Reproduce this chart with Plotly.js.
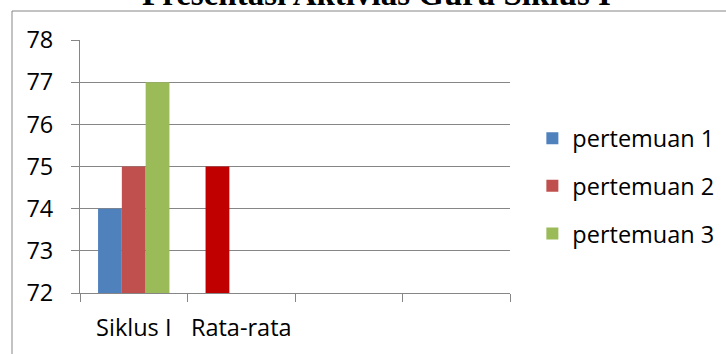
<!DOCTYPE html>
<html>
<head>
<meta charset="utf-8">
<script src="https://cdn.plot.ly/plotly-3.0.1.min.js"></script>
<style>html,body{margin:0;padding:0;background:#fff;}#chart{width:726px;height:354px;}</style>
</head>
<body>
<div id="chart"></div>
<script>
const categories = ['Siklus I', 'Rata-rata', ' ', '  '];
const seriesNames = ['pertemuan 1', 'pertemuan 2', 'pertemuan 3'];
const p1X = ['Siklus I', 'Rata-rata'];
const p1Y = [74, 75];
const p2X = ['Siklus I'];
const p2Y = [75];
const p3X = ['Siklus I'];
const p3Y = [77];
const yTicks = [72, 73, 74, 75, 76, 77, 78];
const titleText = 'Presentasi Aktivias Guru Siklus I';

const fontFam = '"Open Sans", "Liberation Sans", sans-serif';
const grid = '#868686';
const fs = 23.5;

const traces = [
  {type: 'bar', name: seriesNames[0], x: p1X, y: p1Y, legendgroup: 'a',
   marker: {color: ['#4F81BD', '#C00000']}},
  {type: 'bar', name: seriesNames[1], x: p2X, y: p2Y, legendgroup: 'b',
   marker: {color: '#C0504D'}},
  {type: 'bar', name: seriesNames[2], x: p3X, y: p3Y, legendgroup: 'c',
   marker: {color: '#9BBB59'}}
];

const layout = {
  width: 726, height: 354,
  margin: {l: 80, r: 216, t: 40, b: 61, autoexpand: false},
  paper_bgcolor: '#fff', plot_bgcolor: '#fff',
  barmode: 'group', bargap: 0.336, bargroupgap: 0,
  font: {family: fontFam, size: fs, color: '#000'},
  showlegend: true,
  legend: {x: 1.052, xanchor: 'left', y: (293 - 186) / 253, yanchor: 'middle',
           font: {family: fontFam, size: fs, color: '#000'},
           tracegroupgap: 14, traceorder: 'grouped', bgcolor: 'rgba(0,0,0,0)'},
  xaxis: {type: 'category', categoryorder: 'array', categoryarray: categories,
          range: [-0.5, 3.5], tickson: 'boundaries', ticks: 'outside', ticklen: 8,
          tickcolor: grid, showline: true, linecolor: grid, linewidth: 1,
          showgrid: false, zeroline: false, fixedrange: true, automargin: false,
          tickangle: 0, ticklabelstandoff: 14,
          tickfont: {family: fontFam, size: fs}},
  yaxis: {range: [72, 78], tickvals: yTicks, ticks: 'outside', ticklen: 8,
          tickcolor: grid, showline: true, linecolor: grid, linewidth: 1,
          showgrid: true, gridcolor: grid, gridwidth: 1, zeroline: false,
          ticklabelstandoff: 13, automargin: false,
          fixedrange: true, tickfont: {family: fontFam, size: fs}},
  shapes: [
    {type: 'rect', xref: 'paper', yref: 'paper',
     x0: (12 - 80) / 430, x1: (740 - 80) / 430,
     y0: (293 - 370) / 253, y1: (293 - 11) / 253,
     line: {color: grid, width: 1}, fillcolor: 'rgba(0,0,0,0)', layer: 'below'}
  ],
  annotations: [
    {text: '<b>' + titleText + '</b>', xref: 'paper', yref: 'paper',
     x: (376 - 80) / 430, y: (293 + 6) / 253, xanchor: 'center', yanchor: 'middle',
     showarrow: false, font: {family: '"Liberation Serif", "Times New Roman", serif', size: 33, color: '#000'}}
  ]
};

Plotly.newPlot('chart', traces, layout, {displayModeBar: false, staticPlot: true});
</script>
</body>
</html>
